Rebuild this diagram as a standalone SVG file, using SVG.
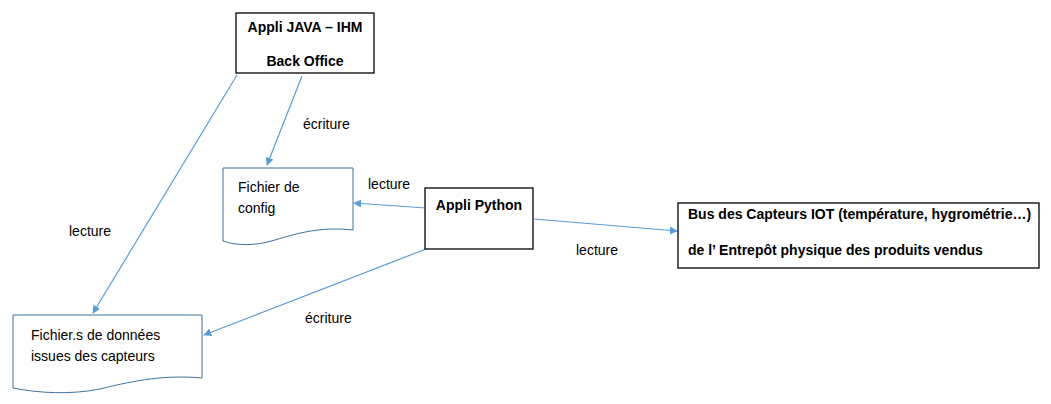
<svg xmlns="http://www.w3.org/2000/svg" width="1051" height="404" viewBox="0 0 1051 404">
<style>
.box{fill:#fff;stroke:#000;stroke-width:1.3}
.doc{fill:#fff;stroke:#41719C;stroke-width:1}
.t{font-family:"Liberation Sans",Arial,sans-serif;font-size:14px;fill:#000}
.b{font-weight:bold}
.c{stroke:#5B9BD5;stroke-width:1.2;fill:none;marker-end:url(#ah)}
</style>
<defs>
<marker id="ah" viewBox="0 0 10 10" refX="9" refY="5" markerWidth="8" markerHeight="8" orient="auto" markerUnits="userSpaceOnUse">
<path d="M0,0 L10,5 L0,10 z" fill="#5B9BD5"/>
</marker>
</defs>
<rect width="1051" height="404" fill="#fff"/>
<g id="connectors">
<line class="c" x1="237" y1="75" x2="93" y2="313"/>
<line class="c" x1="302" y1="76" x2="267" y2="165"/>
<line class="c" x1="426" y1="208" x2="354" y2="203"/>
<line class="c" x1="534" y1="219" x2="677" y2="231"/>
<line class="c" x1="426" y1="249" x2="204" y2="335"/>
</g>
<g id="labels" class="t">
<text x="303" y="129">écriture</text>
<text x="368" y="189">lecture</text>
<text x="69" y="236">lecture</text>
<text x="576" y="255">lecture</text>
<text x="305" y="323">écriture</text>
</g>
<g id="java">
<rect class="box" x="236" y="13" width="138" height="60"/>
<text class="t b" x="305" y="32" text-anchor="middle">Appli JAVA – IHM</text>
<text class="t b" x="305" y="66" text-anchor="middle">Back Office</text>
</g>
<g id="config">
<path class="doc" d="M223,168 H353 V230 C320,226 295,234 275,240 C255,246 238,246 223,241 Z"/>
<text class="t" x="238" y="192">Fichier de</text>
<text class="t" x="238" y="213">config</text>
</g>
<g id="python">
<rect class="box" x="425" y="188" width="108" height="61"/>
<text class="t b" x="479" y="210" text-anchor="middle">Appli Python</text>
</g>
<g id="bus">
<rect class="box" x="678" y="203" width="361" height="65"/>
<text class="t b" x="688" y="219">Bus des Capteurs IOT (température, hygrométrie…)</text>
<text class="t b" x="688" y="255">de l’ Entrepôt physique des produits vendus</text>
</g>
<g id="donnees">
<path class="doc" d="M13,315 H202 V378 C160,374 125,383 100,389 C70,395 38,393 13,388 Z"/>
<text class="t" x="31" y="340">Fichier.s de données</text>
<text class="t" x="31" y="361">issues des capteurs</text>
</g>
</svg>
